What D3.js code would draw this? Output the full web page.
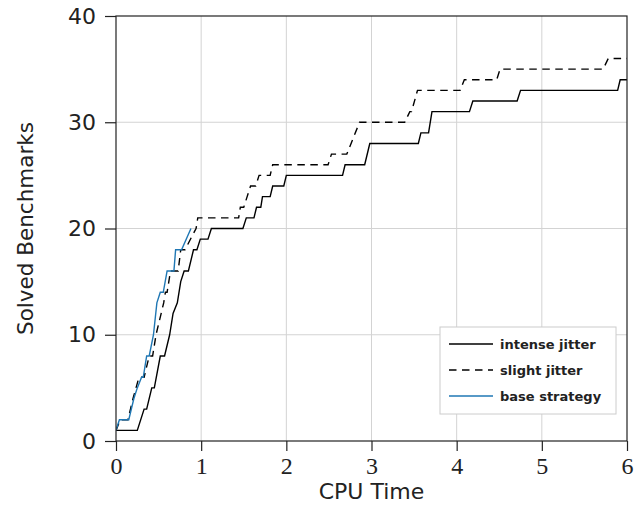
<!DOCTYPE html>
<html>
<head>
<meta charset="utf-8">
<script src="https://cdn.jsdelivr.net/npm/d3@7"></script>
<style>
  body { margin: 0; background: #fff; }
  svg { display: block; }
</style>
</head>
<body>
<svg id="chart" width="635" height="512"></svg>
<script>
// data
var xTicks = [0, 1, 2, 3, 4, 5, 6];
var yTicks = [0, 10, 20, 30, 40];

var intenseTime   = [0, 0.25, 0.33, 0.36, 0.42, 0.45, 0.52, 0.57, 0.63, 0.67, 0.72, 0.76, 0.80, 0.85, 0.91, 0.95, 0.99, 1.08, 1.12, 1.49, 1.53, 1.62, 1.65, 1.70, 1.72, 1.81, 1.84, 1.97, 2.00, 2.66, 2.69, 2.92, 2.98, 3.55, 3.58, 3.67, 3.71, 4.15, 4.19, 4.71, 4.75, 5.89, 5.92, 6.00];
var intenseSolved = [1, 1, 3, 3, 5, 5, 8, 8, 10, 12, 13, 15, 16, 16, 18, 18, 19, 19, 20, 20, 21, 21, 22, 22, 23, 23, 24, 24, 25, 25, 26, 26, 28, 28, 29, 29, 31, 31, 32, 32, 33, 33, 34, 34];

var slightTime   = [0, 0.05, 0.14, 0.20, 0.27, 0.33, 0.39, 0.43, 0.47, 0.50, 0.56, 0.58, 0.60, 0.64, 0.73, 0.76, 0.81, 0.94, 0.96, 1.44, 1.46, 1.50, 1.54, 1.58, 1.64, 1.68, 1.81, 1.84, 2.49, 2.53, 2.71, 2.86, 3.39, 3.45, 3.47, 3.54, 4.04, 4.09, 4.47, 4.51, 5.72, 5.78, 6.00];
var slightSolved = [1, 2, 2, 4, 6, 6, 8, 8, 10, 11, 13, 14, 14, 16, 16, 18, 18, 20, 21, 21, 22, 22, 23, 24, 24, 25, 25, 26, 26, 27, 27, 30, 30, 31, 31, 33, 33, 34, 34, 35, 35, 36, 36];

var baseTime   = [0, 0.04, 0.15, 0.21, 0.25, 0.30, 0.32, 0.36, 0.39, 0.44, 0.48, 0.52, 0.555, 0.60, 0.68, 0.70, 0.77, 0.88];
var baseSolved = [1, 2, 2, 4, 5, 6, 6, 8, 8, 10, 13, 14, 14, 16, 16, 18, 18, 20];

var seriesNames = ["intense jitter", "slight jitter", "base strategy"];

var svg = d3.select("svg#chart");

var plotLeft = 116, plotRight = 627, plotTop = 16, plotBottom = 441;

var x = d3.scaleLinear().domain([0, 6]).range([plotLeft, plotRight]);
var y = d3.scaleLinear().domain([0, 40]).range([plotBottom, plotTop]);

// grid
svg.append("g")
  .selectAll("line.vgrid")
  .data(xTicks.slice(1, -1))
  .enter().append("line")
  .attr("x1", d => x(d)).attr("x2", d => x(d))
  .attr("y1", plotTop).attr("y2", plotBottom)
  .attr("stroke", "#d3d3d3").attr("stroke-width", 1);

svg.append("g")
  .selectAll("line.hgrid")
  .data(yTicks.slice(1, -1))
  .enter().append("line")
  .attr("x1", plotLeft).attr("x2", plotRight)
  .attr("y1", d => y(d)).attr("y2", d => y(d))
  .attr("stroke", "#d3d3d3").attr("stroke-width", 1);

// clip
svg.append("clipPath").attr("id", "plotClip")
  .append("rect")
  .attr("x", plotLeft).attr("y", plotTop - 2)
  .attr("width", plotRight - plotLeft).attr("height", plotBottom - plotTop + 4);

function pts(ts, vs) {
  return ts.map((t, i) => [t, vs[i]]);
}

var line = d3.line().x(d => x(d[0])).y(d => y(d[1]));

var series = [
  {name: seriesNames[0], data: pts(intenseTime, intenseSolved), color: "#000", dash: null, w: 1.4},
  {name: seriesNames[1], data: pts(slightTime, slightSolved), color: "#000", dash: "7.5,5.5", w: 1.4},
  {name: seriesNames[2], data: pts(baseTime, baseSolved), color: "#1f77b4", dash: null, w: 1.4}
];

svg.append("g").attr("clip-path", "url(#plotClip)")
  .selectAll("path.series")
  .data(series)
  .enter().append("path")
  .attr("class", "series")
  .attr("d", d => line(d.data))
  .attr("fill", "none")
  .attr("stroke", d => d.color)
  .attr("stroke-width", d => d.w)
  .attr("stroke-dasharray", d => d.dash);

// frame
svg.append("rect")
  .attr("x", plotLeft).attr("y", plotTop)
  .attr("width", plotRight - plotLeft).attr("height", plotBottom - plotTop)
  .attr("fill", "none").attr("stroke", "#222").attr("stroke-width", 1.2);

// axes
var xAxis = d3.axisBottom(x).tickValues(xTicks).tickFormat(d3.format("d")).tickSize(10).tickPadding(6);
var gx = svg.append("g").attr("transform", "translate(0," + plotBottom + ")").call(xAxis);
gx.select(".domain").remove();
gx.selectAll(".tick line").attr("stroke", "#222").attr("stroke-width", 1.2);
gx.selectAll(".tick text")
  .attr("font-family", "'Liberation Serif', serif")
  .attr("font-size", 24)
  .attr("fill", "#222");

var yAxis = d3.axisLeft(y).tickValues(yTicks).tickFormat(d3.format("d")).tickSize(11).tickPadding(9);
var gy = svg.append("g").attr("transform", "translate(" + plotLeft + ",0)").call(yAxis);
gy.select(".domain").remove();
gy.selectAll(".tick line").attr("stroke", "#222").attr("stroke-width", 1.2);
gy.selectAll(".tick text")
  .attr("font-family", "'DejaVu Sans', sans-serif")
  .attr("font-size", 22)
  .attr("fill", "#222");

// axis labels
svg.append("text")
  .attr("x", (plotLeft + plotRight) / 2)
  .attr("y", 499)
  .attr("text-anchor", "middle")
  .attr("font-family", "'DejaVu Sans', sans-serif")
  .attr("font-size", 22)
  .attr("fill", "#222")
  .text("CPU Time");

svg.append("text")
  .attr("transform", "translate(33," + ((plotTop + plotBottom) / 2) + ") rotate(-90)")
  .attr("text-anchor", "middle")
  .attr("font-family", "'DejaVu Sans', sans-serif")
  .attr("font-size", 21.5)
  .attr("fill", "#222")
  .text("Solved Benchmarks");

// legend
var legend = svg.append("g");
legend.append("rect")
  .attr("x", 440).attr("y", 327)
  .attr("width", 176).attr("height", 87)
  .attr("fill", "#fff").attr("stroke", "#cccccc").attr("stroke-width", 1);

var rows = legend.selectAll("g.row")
  .data(series)
  .enter().append("g")
  .attr("class", "row")
  .attr("transform", (d, i) => "translate(0," + (344 + i * 26) + ")");

rows.append("line")
  .attr("x1", 449).attr("x2", 493)
  .attr("y1", 0).attr("y2", 0)
  .attr("stroke", d => d.color)
  .attr("stroke-width", d => d.w)
  .attr("stroke-dasharray", d => d.dash);

rows.append("text")
  .attr("x", 500).attr("y", 5)
  .attr("font-family", "'DejaVu Sans', sans-serif")
  .attr("font-size", 13)
  .attr("font-weight", "bold")
  .attr("fill", "#222")
  .text(d => d.name);
</script>
</body>
</html>
